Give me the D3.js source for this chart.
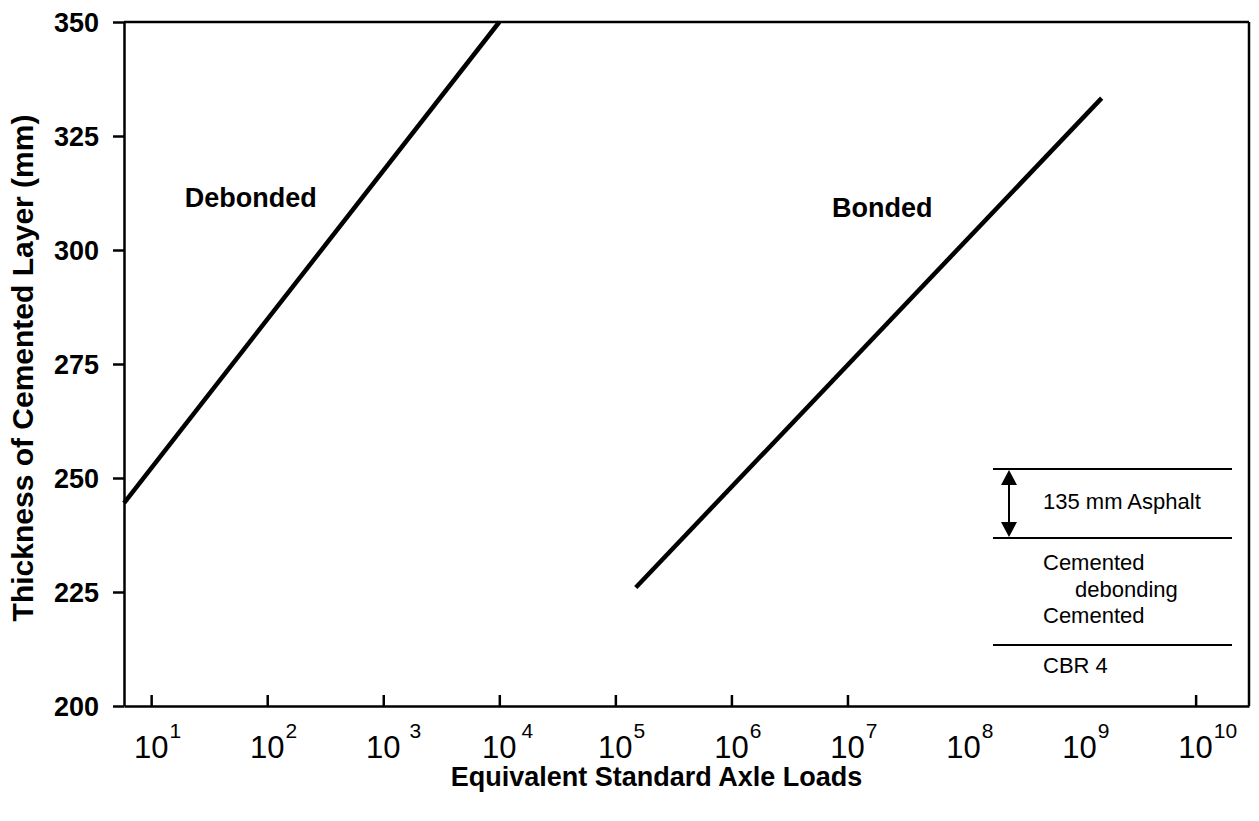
<!DOCTYPE html>
<html>
<head>
<meta charset="utf-8">
<script src="https://cdn.jsdelivr.net/npm/d3@7"></script>
<style>
  html, body { margin: 0; padding: 0; background: #fff; }
  svg { display: block; }
  text { font-family: "Liberation Sans", Arial, Helvetica, sans-serif; fill: #000; }
</style>
</head>
<body>
<svg id="chart" width="1259" height="821"></svg>
<script>
// ---------------- data ----------------
const tickExponents = [1, 2, 3, 4, 5, 6, 7, 8, 9, 10];      // labelled decades
const tickMarkExponents = [1, 2, 3, 4, 5, 6, 7, 10];        // decades carrying a tick mark
const yTicks = [200, 225, 250, 275, 300, 325, 350];
const xDomain = [Math.pow(10, 0.766), Math.pow(10, 10.46)];
const yDomain = [200, 350];

const debonded = [[Math.pow(10, 0.766), 244.5], [1e4, 350]];
const bonded = [[1.5e5, 226], [1.55e9, 333.3]];

const seriesLabels = [
  { name: "Debonded", x: 19.5, y: 309.4 },
  { name: "Bonded", x: 7.36e6, y: 307.2 }
];
const xTitle = "Equivalent Standard Axle Loads";
const yTitle = "Thickness of Cemented Layer (mm)";
const legendTexts = ["135 mm Asphalt", "Cemented", "debonding", "Cemented", "CBR 4"];

// ---------------- layout ----------------
const margin = { left: 124, top: 22 };
const W = 1125, H = 684;

const svg = d3.select("#chart");
const g = svg.append("g").attr("transform", `translate(${margin.left},${margin.top})`);

const x = d3.scaleLog().domain(xDomain).range([0, W]);
const y = d3.scaleLinear().domain(yDomain).range([H, 0]);

const axisStroke = 2.5;

// y axis
const yAxis = g.append("g")
  .call(d3.axisLeft(y).tickValues(yTicks).tickSizeInner(11).tickSizeOuter(0).tickPadding(14).tickFormat(d3.format("d")));
yAxis.selectAll("path, line").attr("stroke", "#000").attr("stroke-width", axisStroke);
yAxis.selectAll("text")
  .style("font-size", "27px").style("font-weight", "bold")
  .attr("dy", "0.36em");

// x axis (ticks inside)
const xAxis = g.append("g").attr("transform", `translate(0,${H})`)
  .call(d3.axisBottom(x).tickValues(tickMarkExponents.map(e => Math.pow(10, e)))
    .tickSizeInner(-11).tickSizeOuter(0).tickFormat(""));
xAxis.selectAll("path, line").attr("stroke", "#000").attr("stroke-width", axisStroke);

// top and right frame lines
g.append("line").attr("x1", 0).attr("x2", W).attr("y1", y(350)).attr("y2", y(350))
  .attr("stroke", "#000").attr("stroke-width", axisStroke);
g.append("line").attr("x1", W).attr("x2", W).attr("y1", 0).attr("y2", H)
  .attr("stroke", "#000").attr("stroke-width", axisStroke);

// x tick labels 10^n
const lab = g.append("g").attr("class", "xlabels");
tickExponents.forEach(e => {
  const cx = x(Math.pow(10, e));
  const base = lab.append("text")
    .attr("x", cx).attr("y", H + 52)
    .attr("text-anchor", "middle")
    .style("font-size", "31px")
    .text("10");
  const bw = base.node().getComputedTextLength();
  lab.append("text")
    .attr("x", cx + bw / 2 + (e === 3 ? 9 : e === 4 ? 5 : 1))
    .attr("y", H + 32)
    .style("font-size", "21px")
    .text(String(e));
});

// lines
const line = d3.line().x(d => x(d[0])).y(d => y(d[1]));
[debonded, bonded].forEach(s => {
  g.append("path").datum(s).attr("d", line)
    .attr("fill", "none").attr("stroke", "#000").attr("stroke-width", 4.5);
});

// series labels
g.selectAll(".slabel").data(seriesLabels).enter().append("text")
  .attr("x", d => x(d.x)).attr("y", d => y(d.y))
  .style("font-size", "27px").style("font-weight", "bold")
  .text(d => d.name);

// titles
svg.append("text")
  .attr("x", margin.left + W / 2 - 30).attr("y", 786)
  .attr("text-anchor", "middle")
  .style("font-size", "27px").style("font-weight", "bold")
  .text(xTitle);
svg.append("text")
  .attr("transform", `translate(33,368) rotate(-90)`)
  .attr("text-anchor", "middle")
  .style("font-size", "30px").style("font-weight", "bold")
  .text(yTitle);

// layer legend (inset)
const lg = svg.append("g").attr("transform", "translate(993,469)");
const lw = 239;
[0, 69, 176].forEach(yy => {
  lg.append("line").attr("x1", 0).attr("x2", lw).attr("y1", yy).attr("y2", yy)
    .attr("stroke", "#000").attr("stroke-width", 2);
});
// double arrow
lg.append("line").attr("x1", 16).attr("x2", 16).attr("y1", 12).attr("y2", 57)
  .attr("stroke", "#000").attr("stroke-width", 2);
lg.append("path").attr("d", "M16,1 L8,16 L24,16 Z").attr("fill", "#000");
lg.append("path").attr("d", "M16,68 L8,53 L24,53 Z").attr("fill", "#000");

const legPos = [[50, 40], [50, 101], [82, 128], [50, 154], [50, 204]];
legendTexts.forEach((t, i) => {
  lg.append("text").attr("x", legPos[i][0]).attr("y", legPos[i][1])
    .style("font-size", "22px").text(t);
});
</script>
</body>
</html>
